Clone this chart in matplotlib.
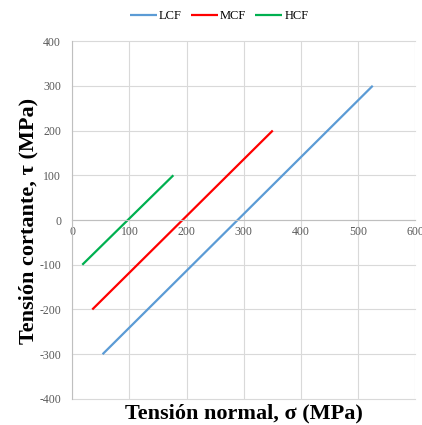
import matplotlib
matplotlib.use('Agg')
import matplotlib.pyplot as plt

plt.rcParams['font.family'] = ['Liberation Serif', 'DejaVu Serif']
plt.rcParams['axes.unicode_minus'] = False

# endpoints of each failure line (sigma, tau) in MPa
series = ['LCF', 'MCF', 'HCF']
colors = ['#5B9BD5', '#FF0000', '#00B050']
sigma = [[53, 526], [35, 351], [17.5, 177]]
tau = [[-300, 300], [-200, 200], [-100, 100]]

x_ticks = [0, 100, 200, 300, 400, 500, 600]
y_ticks = [-400, -300, -200, -100, 0, 100, 200, 300, 400]


def main():
    fig = plt.figure(figsize=(4.22, 4.25), dpi=100)
    ax = fig.add_axes([0.1713, 0.0612, 0.8121, 0.8423])

    for name, c, xs, ys in zip(series, colors, sigma, tau):
        ax.plot(xs, ys, color=c, lw=1.6, label=name, solid_capstyle='butt')

    ax.set_xlim(0, 600)
    ax.set_ylim(-400, 400)
    ax.set_xticks(x_ticks)
    ax.set_yticks(y_ticks)
    ax.grid(True, color='#D9D9D9', lw=0.8)
    ax.set_axisbelow(True)
    for gl in ax.get_xgridlines() + ax.get_ygridlines():
        gl.set_clip_on(False)

    for s in ['top', 'right']:
        ax.spines[s].set_visible(False)
    ax.spines['bottom'].set_position(('data', 0))
    ax.spines['bottom'].set_color('#BFBFBF')
    ax.spines['left'].set_color('#BFBFBF')
    ax.tick_params(length=0, labelsize=8.5, labelcolor='#595959')
    ax.tick_params(axis='y', pad=8)
    ax.tick_params(axis='x', pad=4)

    fig.text(244 / 422, 1 - 418 / 425, 'Tensión normal, σ (MPa)', fontsize=16,
             fontweight='bold', ha='center', va='baseline')
    fig.text(28 / 422, 1 - 221 / 425, 'Tensión cortante, τ (MPa)', fontsize=16,
             fontweight='bold', ha='center', va='center', rotation=90)

    fig.legend(loc='center', bbox_to_anchor=(219 / 422, 1 - 16 / 425), ncol=3,
               frameon=False, fontsize=9, handlelength=2.2, handletextpad=0.15,
               columnspacing=0.7)

    fig.savefig('out.png', dpi=100)


if __name__ == '__main__':
    main()
